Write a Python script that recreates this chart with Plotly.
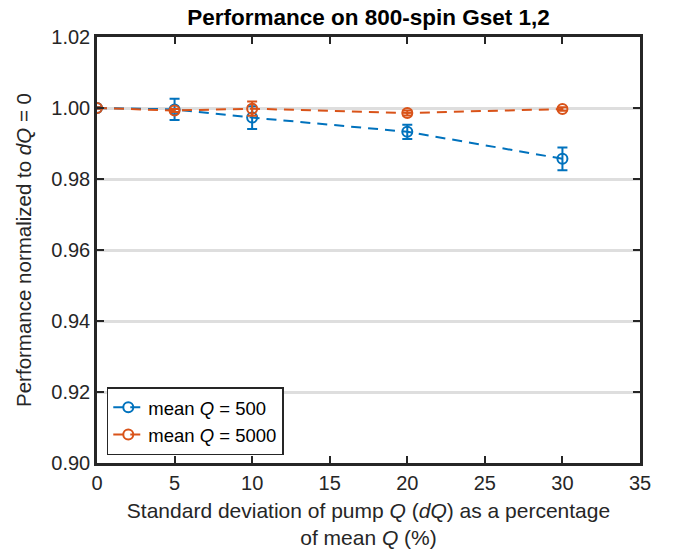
import plotly.graph_objects as go

x_vals = [0, 5, 10, 20, 30]
blue_y = [1.0000, 0.9996, 0.9973, 0.9933, 0.9857]
blue_err = [0.0003, 0.0030, 0.0032, 0.0020, 0.0032]
orange_y = [1.0000, 0.9993, 0.9998, 0.9986, 0.9997]
orange_err = [0.0002, 0.0004, 0.0020, 0.0007, 0.0005]
names = ["mean <i>Q</i> = 500", "mean <i>Q</i> = 5000"]
x_ticks = [0, 5, 10, 15, 20, 25, 30, 35]
y_ticks = [0.90, 0.92, 0.94, 0.96, 0.98, 1.00, 1.02]

blue = "#0072BD"
orange = "#D95319"

fig = go.Figure()
for y, e, c, n in [(blue_y, blue_err, blue, names[0]), (orange_y, orange_err, orange, names[1])]:
    fig.add_trace(go.Scatter(
        x=x_vals, y=y, name=n, mode="lines+markers",
        line=dict(color=c, width=2, dash="10px,7px"),
        marker=dict(symbol="circle-open", size=10, color=c, line=dict(width=2, color=c)),
        error_y=dict(type="data", array=e, visible=True, color=c, thickness=2, width=5),
    ))

font = "Liberation Sans, Arial, Helvetica, sans-serif"
fig.update_layout(
    width=680, height=550,
    margin=dict(l=97, r=40, t=37, b=87),
    paper_bgcolor="white", plot_bgcolor="white",
    font=dict(family=font, size=20, color="#262626"),
    title=dict(text="<b>Performance on 800-spin Gset 1,2</b>", x=0.5, xref="paper", xanchor="center",
               y=0.984, yref="container", yanchor="top", font=dict(size=22.5, color="black")),
    showlegend=True,
    legend=dict(x=0.018, y=0.018, xanchor="left", yanchor="bottom",
                bordercolor="#262626", borderwidth=1.5, bgcolor="white",
                font=dict(size=18.5, color="black"), tracegroupgap=0, itemwidth=30),
)
fig.update_xaxes(
    range=[0, 35], tickvals=x_ticks, ticktext=[str(t) for t in x_ticks],
    showgrid=False, zeroline=False, showline=True, linecolor="#262626", linewidth=2.5,
    mirror="ticks", ticks="inside", ticklen=7, tickwidth=2, tickcolor="#262626",
    tickfont=dict(size=20), automargin=False,
    title=dict(text="Standard deviation of pump <i>Q</i> (<i>dQ</i>) as a percentage<br>of mean <i>Q</i> (%)",
               standoff=11, font=dict(size=21)),
)
fig.update_yaxes(
    range=[0.90, 1.02], tickvals=y_ticks, ticktext=[f"{t:.2f}" for t in y_ticks],
    showgrid=True, gridcolor="#DEDEDE", gridwidth=2.5, zeroline=False,
    showline=True, linecolor="#262626", linewidth=2.5,
    mirror="ticks", ticks="inside", ticklen=7, tickwidth=2, tickcolor="#262626",
    tickfont=dict(size=20), automargin=False,
    title=dict(text="Performance normalized to <i>dQ</i> = 0", standoff=15, font=dict(size=20.5)),
)
fig.write_html("out.html")
